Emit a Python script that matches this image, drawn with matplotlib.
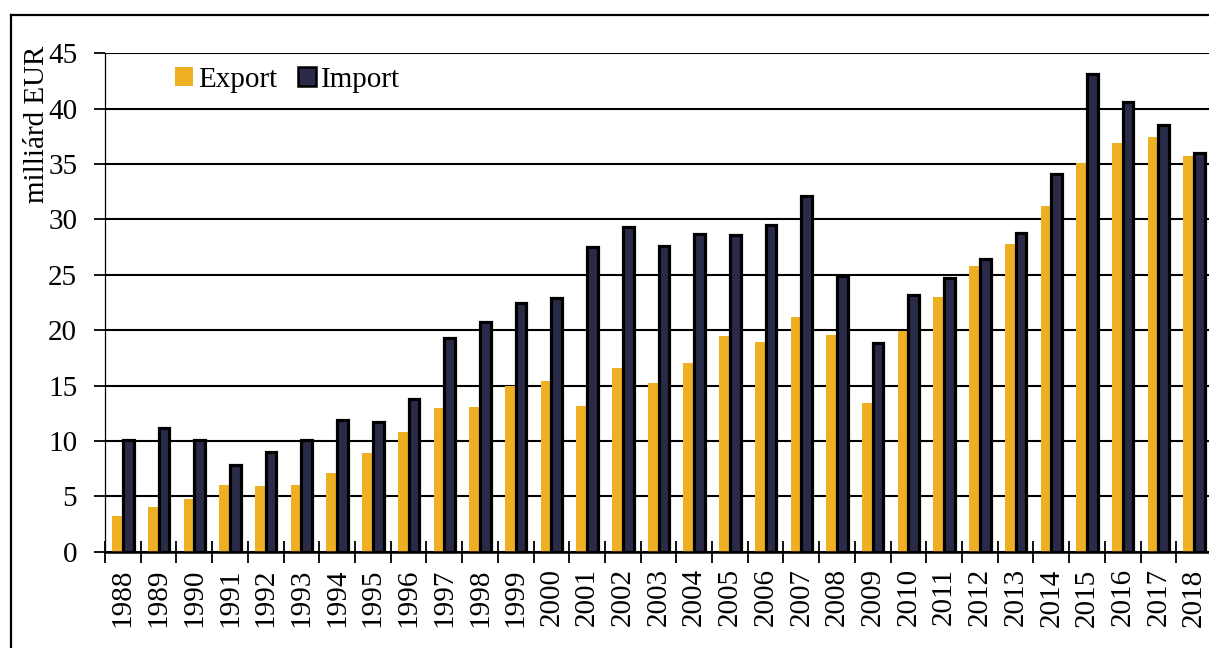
import matplotlib
matplotlib.use("Agg")
import matplotlib.pyplot as plt
from matplotlib.lines import Line2D
from matplotlib.patches import Patch
import numpy as np

years = [str(y) for y in range(1988, 2019)]
export = [3.2, 4.0, 4.8, 6.0, 5.9, 6.0, 7.1, 8.9, 10.8, 13.0, 13.1, 15.0, 15.4,
          13.2, 16.6, 15.2, 17.0, 19.5, 18.9, 21.2, 19.6, 13.4, 19.9, 23.0,
          25.8, 27.8, 31.2, 35.1, 36.9, 37.4, 35.7]
imports = [10.1, 11.2, 10.1, 7.8, 9.0, 10.1, 11.9, 11.7, 13.8, 19.3, 20.7, 22.5,
           22.9, 27.5, 29.3, 27.6, 28.7, 28.6, 29.5, 32.1, 24.9, 18.8, 23.2,
           24.7, 26.4, 28.8, 34.1, 43.1, 40.6, 38.5, 36.0]
yticks = list(range(0, 50, 5))

EXPORT_COLOR = "#EFAF22"
IMPORT_COLOR = "#2A2B48"

plt.rcParams["font.family"] = ["Liberation Serif", "DejaVu Serif"]
plt.rcParams["font.size"] = 21

W, H = 1209, 648
fig = plt.figure(figsize=(W / 100, H / 100), dpi=100)
ax = fig.add_axes([105 / W, 96.3 / H, (1212 - 105) / W, (551.7 - 53.3) / H])

x = np.arange(len(years))
bw = 0.30
ax.bar(x - bw / 2, export, width=bw, color=EXPORT_COLOR, zorder=3)
ax.bar(x + bw / 2, imports, width=bw, color=IMPORT_COLOR, edgecolor="black",
       linewidth=2.3, zorder=3)

ax.set_xlim(-0.5, len(years) - 0.5)
ax.set_ylim(0, 45)
ax.set_yticks(yticks)
ax.set_yticklabels([str(t) for t in yticks])
ax.set_xticks(x)
ax.set_xticklabels(years, rotation=90, va="top", ha="center")
ax.set_xticks(np.arange(-0.5, len(years), 1.0), minor=True)

ax.tick_params(axis="x", which="major", length=0, pad=12)
ax.tick_params(axis="x", which="minor", length=16, width=1.3, direction="inout",
               color="black")
ax.tick_params(axis="y", which="major", length=8, width=1.3, direction="out",
               pad=12, color="black")

ax.yaxis.grid(True, color="black", linewidth=1.5, zorder=1)
ax.set_axisbelow(True)
for s in ("top", "right"):
    ax.spines[s].set_visible(False)
ax.spines["left"].set_linewidth(0.9)
ax.spines["bottom"].set_linewidth(1.8)
ax.spines["bottom"].set_zorder(4)

# outer frame around the chart
fig.add_artist(Line2D([10.5 / W, 10.5 / W], [0, 1 - 15 / H], color="black",
                      linewidth=1.6, transform=fig.transFigure))
fig.add_artist(Line2D([10.5 / W, 1.0], [1 - 15 / H, 1 - 15 / H], color="black",
                      linewidth=1.6, transform=fig.transFigure))

fig.text(37 / W, 1 - 124 / H, "milliárd EUR", rotation=90, ha="center",
         va="center", fontsize=21)

handles = [Patch(facecolor=EXPORT_COLOR, edgecolor="none"),
           Patch(facecolor=IMPORT_COLOR, edgecolor="black", linewidth=1.8)]
fig.legend(handles, ["Export", "Import"], loc="center left",
           bbox_to_anchor=(175 / W, 1 - 80 / H), bbox_transform=fig.transFigure,
           ncol=2, frameon=False, handlelength=0.62, handleheight=0.62,
           handletextpad=0.18, columnspacing=0.7, borderpad=0, borderaxespad=0,
           fontsize=21)

fig.savefig("out.png", dpi=100)
